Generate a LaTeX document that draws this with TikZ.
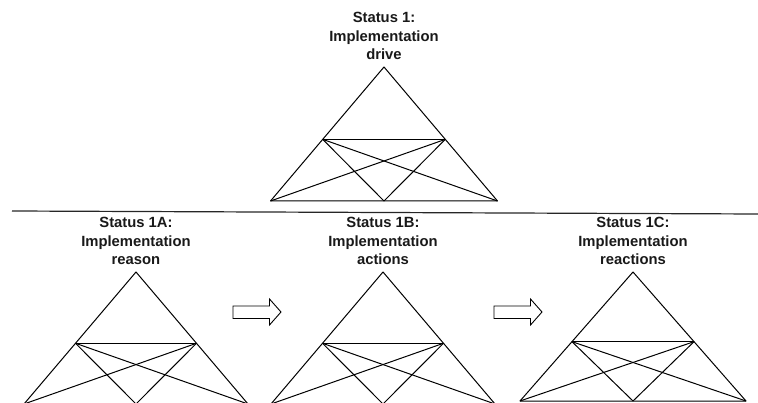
\documentclass[tikz,border=0pt]{standalone}
\usepackage{fontspec}
\setmainfont{Liberation Sans}
\usetikzlibrary{calc}

\tikzset{
  tri/.style={line width=1pt, line join=round},
  status/.style={align=center, font=\bfseries\fontsize{14.8}{18.6}\selectfont, text=black!90},
  blockarrow/.style={line width=0.9pt, fill=white, line join=miter}
}

\begin{document}
\begin{tikzpicture}[x=1pt, y=-1pt]
    \useasboundingbox (0, 0) rectangle (758, 403);
    % Titles
    \node [status] (st-t) at (384, 36) {Status 1:\\Implementation\\drive};
    \node [status] (st-a) at (136, 241) {Status 1A:\\Implementation\\reason};
    \node [status] (st-b) at (383, 241) {Status 1B:\\Implementation\\actions};
    \node [status] (st-c) at (633, 241) {Status 1C:\\Implementation\\reactions};
    % Separator
    \coordinate (rule-l) at (12, 211);
    \coordinate (rule-r) at (758, 214);
    \draw [line width=1.2pt, black!85] (rule-l) -- (rule-r);
    % Triangles
    \foreach \n/\ax/\ay/\by/\w in {t/384/67/201/113.5, a/136/272/404/112, b/383/272/404/112, c/633/272/401/113} {
        \coordinate (\n-top) at (\ax, \ay);
        \coordinate (\n-bl) at (\ax-\w, \by);
        \coordinate (\n-br) at (\ax+\w, \by);
        \coordinate (\n-bm) at (\ax, \by);
        \coordinate (\n-ml) at ($(\n-top)!0.54!(\n-bl)$);
        \coordinate (\n-mr) at ($(\n-top)!0.54!(\n-br)$);
        % Sides
        \draw [tri] (\n-bl) -- (\n-top) -- (\n-br) -- cycle;
        % Middle bar
        \draw [tri] (\n-ml) -- (\n-mr);
        % Diagonals
        \draw [tri] (\n-bl) -- (\n-mr);
        \draw [tri] (\n-br) -- (\n-ml);
        \draw [tri] (\n-ml) -- (\n-bm) -- (\n-mr);
    }
    % Block arrows
    \foreach \n/\x in {ab/233, bc/494} {
        \draw [blockarrow] (\x, 306) -- ++(36.5, 0) -- ++(0, -7) -- ++(11.5, 13)
            -- ++(-11.5, 13) -- ++(0, -6.5) -- ++(-36.5, 0) -- cycle;
    }
\end{tikzpicture}
\end{document}
